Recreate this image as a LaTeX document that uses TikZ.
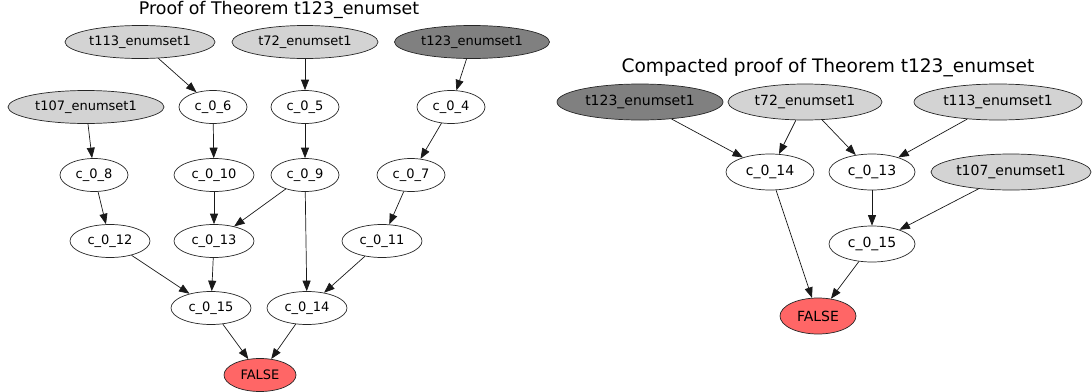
\documentclass[tikz,border=0pt]{standalone}
\usepackage{fontspec}
\setmainfont{DejaVu Sans}
\usetikzlibrary{shapes.geometric,arrows.meta}
\definecolor{axgray}{RGB}{211,211,211}
\definecolor{conjgray}{RGB}{128,128,128}
\definecolor{falsered}{RGB}{255,102,102}
\begin{document}
\begin{tikzpicture}[x=1pt,y=-1pt,
  nd/.style={ellipse, draw=black!85, line width=0.7pt, inner sep=0pt, minimum height=33pt, font=\fontsize{13}{15}\selectfont},
  ndr/.style={nd, minimum height=36pt, font=\fontsize{14}{16}\selectfont},
  ax/.style={fill=axgray},
  conj/.style={fill=conjgray},
  fls/.style={fill=falsered},
  conn/.style={-{Triangle[length=10.5pt,width=8pt]}, line width=0.7pt, draw=black!90},
  ttl/.style={inner sep=0pt}]
\useasboundingbox (0,0) rectangle (1092,391);
% ---------- left graph ----------
\node[ttl,font=\fontsize{17.4}{19}\selectfont] (t1) at (279,10) {Proof of Theorem t123\_enumset};
\node[nd,ax,minimum width=150pt] (a113) at (140,42) {t113\_enumset1};
\node[nd,ax,minimum width=146pt] (a72) at (305,42) {t72\_enumset1};
\node[nd,conj,minimum width=155pt] (a123) at (472,42) {t123\_enumset1};
\node[nd,ax,minimum width=156pt] (a107) at (86,107) {t107\_enumset1};
\node[nd,minimum width=68pt] (c6) at (213,107) {c\_0\_6};
\node[nd,minimum width=68pt] (c5) at (305,107) {c\_0\_5};
\node[nd,minimum width=68pt] (c4) at (451,107) {c\_0\_4};
\node[nd,minimum width=68pt] (c8) at (94,175) {c\_0\_8};
\node[nd,minimum width=80pt] (c10) at (214,175) {c\_0\_10};
\node[nd,minimum width=68pt] (c9) at (305,175) {c\_0\_9};
\node[nd,minimum width=68pt] (c7) at (411,175) {c\_0\_7};
\node[nd,minimum width=80pt] (c12) at (110,241) {c\_0\_12};
\node[nd,minimum width=80pt] (c13) at (214,241) {c\_0\_13};
\node[nd,minimum width=80pt] (c11) at (382,241) {c\_0\_11};
\node[nd,minimum width=80pt] (c15) at (211,308) {c\_0\_15};
\node[nd,minimum width=80pt] (c14) at (307,308) {c\_0\_14};
\node[nd,fls,minimum width=72pt] (f1) at (260,375) {FALSE};
\draw[conn] (a113) -- (c6);
\draw[conn] (a72) -- (c5);
\draw[conn] (a123) -- (c4);
\draw[conn] (a107) -- (c8);
\draw[conn] (c6) -- (c10);
\draw[conn] (c5) -- (c9);
\draw[conn] (c4) -- (c7);
\draw[conn] (c8) -- (c12);
\draw[conn] (c10) -- (c13);
\draw[conn] (c9) -- (c13);
\draw[conn] (c9) -- (c14);
\draw[conn] (c7) -- (c11);
\draw[conn] (c12) -- (c15);
\draw[conn] (c13) -- (c15);
\draw[conn] (c11) -- (c14);
\draw[conn] (c15) -- (f1);
\draw[conn] (c14) -- (f1);
% ---------- right graph ----------
\node[ttl,font=\fontsize{18.6}{21}\selectfont] (t2) at (828,68) {Compacted proof of Theorem t123\_enumset};
\node[ndr,conj,minimum width=166pt] (b123) at (640,102) {t123\_enumset1};
\node[ndr,ax,minimum width=154pt] (b72) at (805,102) {t72\_enumset1};
\node[ndr,ax,minimum width=168pt] (b113) at (998,102) {t113\_enumset1};
\node[ndr,minimum width=88pt] (d14) at (770,172) {c\_0\_14};
\node[ndr,minimum width=86pt] (d13) at (872,172) {c\_0\_13};
\node[ndr,ax,minimum width=160pt] (b107) at (1011,172) {t107\_enumset1};
\node[ndr,minimum width=86pt] (d15) at (872,244) {c\_0\_15};
\node[ndr,fls,minimum width=76pt] (f2) at (818,316) {FALSE};
\draw[conn] (b123) -- (d14);
\draw[conn] (b72) -- (d14);
\draw[conn] (b72) -- (d13);
\draw[conn] (b113) -- (d13);
\draw[conn] (d13) -- (d15);
\draw[conn] (b107) -- (d15);
\draw[conn] (d14) -- (f2);
\draw[conn] (d15) -- (f2);
\end{tikzpicture}
\end{document}
